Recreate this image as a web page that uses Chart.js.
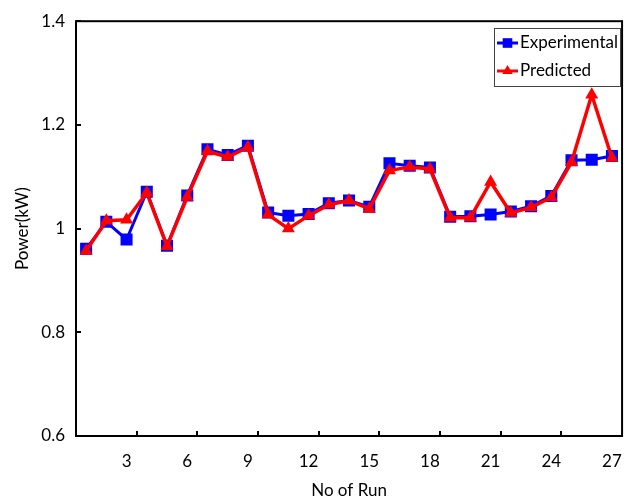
<!DOCTYPE html>
<html><head><meta charset="utf-8">
<script src="https://cdn.jsdelivr.net/npm/chart.js@4/dist/chart.umd.min.js"></script>
<style>html,body{margin:0;padding:0;background:#fff;}#wrap{width:637px;height:501px;}</style>
</head><body><div id="wrap"><canvas id="c" width="637" height="501"></canvas></div>
<script>
const runs = [1,2,3,4,5,6,7,8,9,10,11,12,13,14,15,16,17,18,19,20,21,22,23,24,25,26,27];
const experimental = [0.961,1.013,0.979,1.071,0.967,1.064,1.153,1.142,1.160,1.031,1.025,1.028,1.049,1.054,1.042,1.126,1.121,1.118,1.023,1.024,1.027,1.033,1.043,1.063,1.132,1.133,1.140];
const predicted = [0.957,1.015,1.017,1.069,0.966,1.061,1.149,1.138,1.157,1.027,1.000,1.025,1.046,1.054,1.038,1.112,1.119,1.115,1.021,1.021,1.090,1.030,1.041,1.060,1.128,1.258,1.136];
const yTicks = [0.6,0.8,1.0,1.2,1.4];
const xLabelEvery = 3;

const FONT = 'Lato, "Liberation Sans", sans-serif';

const framePlugin = {
  id: 'frame',
  beforeDatasetsDraw(chart) {
    const {ctx, chartArea: {left, right, top, bottom}, scales: {x, y}} = chart;
    ctx.save();
    ctx.strokeStyle = '#000';
    ctx.lineWidth = 2;
    ctx.strokeRect(left, top, right - left, bottom - top);
    ctx.beginPath();
    yTicks.forEach(v => { const py = Math.round(y.getPixelForValue(v)); ctx.moveTo(left, py); ctx.lineTo(left + 5, py); });
    for (let k = xLabelEvery; k < runs.length; k += xLabelEvery) {
      const px = Math.round(x.getPixelForValue(k - 0.5));
      ctx.moveTo(px, bottom); ctx.lineTo(px, bottom - 5);
    }
    ctx.stroke();
    ctx.restore();
  },
  afterDraw(chart) {
    const {ctx} = chart;
    ctx.save();
    const bx = 494, by = 28, bw = 126, bh = 58;
    ctx.fillStyle = '#fff';
    ctx.fillRect(bx, by, bw, bh);
    ctx.strokeStyle = '#444';
    ctx.lineWidth = 1;
    ctx.strokeRect(bx + 0.5, by + 0.5, bw, bh);
    const items = chart.data.datasets.slice().sort((a, b) => b.order - a.order);
    items.forEach((ds, i) => {
      const cy = by + 15 + i * 28;
      ctx.strokeStyle = ds.borderColor;
      ctx.lineWidth = 3;
      ctx.beginPath(); ctx.moveTo(bx + 3, cy); ctx.lineTo(bx + 24, cy); ctx.stroke();
      ctx.fillStyle = ds.backgroundColor;
      Chart.helpers.drawPoint(ctx, {pointStyle: ds.pointStyle, radius: ds.pointRadius * 0.8, borderWidth: 0}, bx + 13.5, cy);
      ctx.fillStyle = '#000';
      ctx.font = '17px ' + FONT;
      ctx.textBaseline = 'middle';
      ctx.textAlign = 'left';
      ctx.fillText(ds.label, bx + 26, cy);
    });
    ctx.restore();
  }
};

new Chart(document.getElementById('c'), {
  type: 'line',
  data: {
    labels: runs,
    datasets: [
      {label: 'Experimental', data: experimental, order: 2, borderColor: '#0000ff', backgroundColor: '#0000ff', borderWidth: 3, pointStyle: 'rect', pointRadius: 8.5, pointBorderWidth: 0, tension: 0},
      {label: 'Predicted', data: predicted, order: 1, borderColor: '#ff0000', backgroundColor: '#ff0000', borderWidth: 3.5, pointStyle: 'triangle', pointRadius: 7.5, pointBorderWidth: 0, tension: 0}
    ]
  },
  options: {
    responsive: false,
    animation: false,
    devicePixelRatio: 1,
    layout: {padding: {left: 0, top: 20, right: 10, bottom: 0}},
    plugins: {legend: {display: false}, tooltip: {enabled: false}},
    scales: {
      x: {
        type: 'category', offset: true,
        grid: {display: false, drawTicks: false},
        border: {display: false},
        ticks: {autoSkip: false, maxRotation: 0, padding: 15, color: '#000', font: {family: FONT, size: 17},
          callback: (v, i) => runs[i] % xLabelEvery === 0 ? String(runs[i]) : ''},
        title: {display: true, text: 'No of Run', color: '#000', font: {family: FONT, size: 17}, padding: {top: 0, bottom: 0}},
        afterFit: s => { s.height = 65; }
      },
      y: {
        min: 0.6, max: 1.4,
        grid: {display: false, drawTicks: false},
        border: {display: false},
        afterBuildTicks: s => { s.ticks = yTicks.map(v => ({value: v})); },
        ticks: {padding: 11, color: '#000', font: {family: FONT, size: 17}, callback: v => String(Math.round(v * 10) / 10)},
        title: {display: true, text: 'Power(kW)', color: '#000', font: {family: FONT, size: 17}, padding: {top: 12, bottom: 0}},
        afterFit: s => { s.width = 76; }
      }
    }
  },
  plugins: [framePlugin]
});
</script>
</body></html>
